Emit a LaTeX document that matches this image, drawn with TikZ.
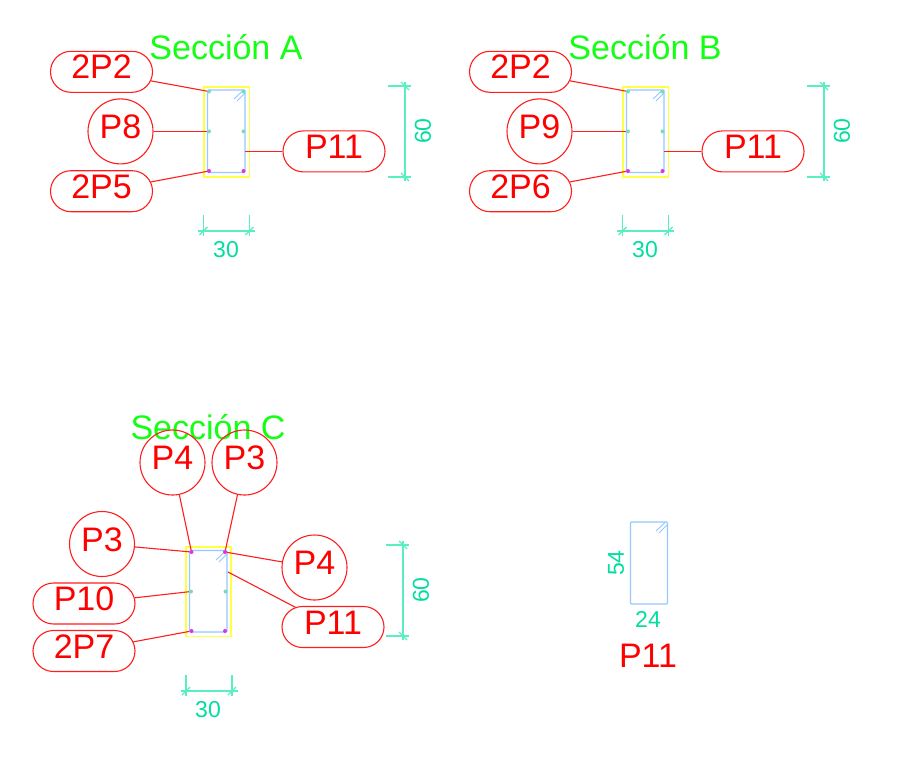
\documentclass[tikz,border=0pt]{standalone}
\usepackage{fontspec}
\setmainfont{Liberation Sans}
\usetikzlibrary{shapes.misc}
\definecolor{leadred}{RGB}{255,30,30}
\definecolor{titlegreen}{RGB}{20,255,20}
\definecolor{dimgreen}{RGB}{0,222,160}
\definecolor{dimline}{RGB}{90,238,195}
\definecolor{barblue}{RGB}{150,200,255}
\definecolor{tieyellow}{RGB}{255,255,70}
\definecolor{barmag}{RGB}{225,50,225}
\definecolor{barteal}{RGB}{120,220,180}
\tikzset{
  pill/.style={draw=leadred, line width=1.1pt, text=red, shape=rounded rectangle, minimum width=102pt, minimum height=41pt, inner sep=0pt, text height=24pt, text depth=10pt, font=\fontsize{34}{34}\selectfont},
  ring/.style={draw=leadred, line width=1.1pt, text=red, shape=circle, minimum size=65pt, inner sep=0pt, text height=24pt, text depth=10pt, font=\fontsize{34}{34}\selectfont},
  leader/.style={draw=leadred, line width=1.1pt},
  title/.style={text=titlegreen, inner sep=0pt, font=\fontsize{34}{34}\selectfont},
  plain label/.style={text=red, inner sep=0pt, font=\fontsize{34}{34}\selectfont},
  dimtext/.style={text=dimgreen, inner sep=0pt, font=\fontsize{23}{23}\selectfont},
  dim/.style={draw=dimline, line width=1.2pt},
  stirrup/.style={draw=barblue, line width=1.3pt, rounded corners=1pt},
  tie/.style={draw=tieyellow, line width=1.3pt},
  bar/.style={fill=#1, inner sep=0pt, minimum size=4pt, shape=circle},
}
\begin{document}
\begin{tikzpicture}[x=1pt,y=-1pt]
\useasboundingbox (0,0) rectangle (901,764);
\fill[white] (0,0) rectangle (901,764);
% secciones A y B
\foreach \sec/\dx/\tname/\ring/\low in {a/0/A/P8/2P5,b/419/B/P9/2P6}{
  \begin{scope}[xshift=\dx pt]
  \node[title] (\sec title) at (226,47) {Sección \tname};
  \draw[tie] (204,87) rectangle (249.5,177);
  \draw[stirrup] (207.5,90) rectangle (245,172.5);
  \draw[draw=barblue, line width=0.9pt] (234,99) -- (243,90.5) (237,101) -- (245,93);
  \node[bar=barteal] (\sec tl) at (209,91.5) {};
  \node[bar=barteal] (\sec tr) at (243.5,91.5) {};
  \node[bar=barteal] (\sec ml) at (209,131.4) {};
  \node[bar=barteal] (\sec mr) at (243.5,131.4) {};
  \node[bar=barmag] (\sec bl) at (209,171) {};
  \node[bar=barmag] (\sec br) at (243.5,171) {};
  \coordinate (\sec side) at (245,151.4);
  \node[pill] (\sec top) at (101.5,71.8) {2P2};
  \node[ring] (\sec mid) at (120.5,131.4) {\ring};
  \node[pill] (\sec low) at (101.5,191.2) {\low};
  \node[pill] (\sec web) at (334,151.4) {P11};
  \draw[leader] (\sec top) -- (\sec tl);
  \draw[leader] (\sec mid) -- (\sec ml);
  \draw[leader] (\sec low) -- (\sec bl);
  \draw[leader] (\sec web) -- (\sec side);
  % cotas
  \draw[dim] (388,86) -- (411,86) (388,177) -- (411,177) (405,82) -- (405,181);
  \draw[dim] (401,82) -- (409,90) (401,173) -- (409,181);
  \node[dimtext, rotate=90] (\sec h) at (423,131) {60};
  \draw[dim] (203.5,215) -- (203.5,236) (249.5,215) -- (249.5,236) (198,231) -- (255,231);
  \draw[dim] (199.5,235) -- (207.5,227) (245.5,235) -- (253.5,227);
  \node[dimtext] (\sec w) at (226,250) {30};
  \end{scope}
}
% seccion C
\node[title] (ctitle) at (208,427) {Sección C};
\draw[tie] (186,547) rectangle (231,636.5);
\draw[stirrup] (189.5,550.5) rectangle (227,632);
\draw[draw=barblue, line width=0.9pt] (216,560) -- (225,551.5) (219,562) -- (227,554);
\node[bar=barmag] (ctl) at (191.5,552) {};
\node[bar=barmag] (ctr) at (225,552) {};
\node[bar=barteal] (cml) at (191,591.5) {};
\node[bar=barteal] (cmr) at (225.5,591.5) {};
\node[bar=barmag] (cbl) at (191.5,631) {};
\node[bar=barmag] (cbr) at (225,631) {};
\coordinate (cside) at (228,572);
\node[ring] (cup1) at (172.5,462.5) {P4};
\node[ring] (cup2) at (244.5,462.5) {P3};
\node[ring] (cleft) at (102,544) {P3};
\node[ring] (cright) at (314.5,567.5) {P4};
\node[pill] (cmid) at (84,603.5) {P10};
\node[pill] (clow) at (84,651) {2P7};
\node[pill] (cweb) at (333,627) {P11};
\draw[leader] (cup1) -- (ctl);
\draw[leader] (cup2) -- (ctr);
\draw[leader] (cleft) -- (ctl);
\draw[leader] (cright) -- (ctr);
\draw[leader] (cmid) -- (cml);
\draw[leader] (clow) -- (cbl);
\draw[leader] (cweb) -- (cside);
\draw[dim] (386,545) -- (409,545) (386,636) -- (409,636) (403,541) -- (403,640);
\draw[dim] (399,541) -- (407,549) (399,632) -- (407,640);
\node[dimtext, rotate=90] (ch) at (421,590) {60};
\draw[dim] (186,675) -- (186,696) (232,675) -- (232,696) (181,691) -- (238,691);
\draw[dim] (182,695) -- (190,687) (228,695) -- (236,687);
\node[dimtext] (cw) at (208,710) {30};
% P11
\draw[stirrup] (630.5,522) rectangle (667.5,604);
\draw[draw=barblue, line width=0.9pt] (656,531) -- (665,522.5) (659,533) -- (667,525);
\node[dimtext, rotate=90] (p54) at (616,563) {54};
\node[dimtext] (p24) at (648,619) {24};
\node[plain label] (p11) at (648,656) {P11};
\end{tikzpicture}
\end{document}
